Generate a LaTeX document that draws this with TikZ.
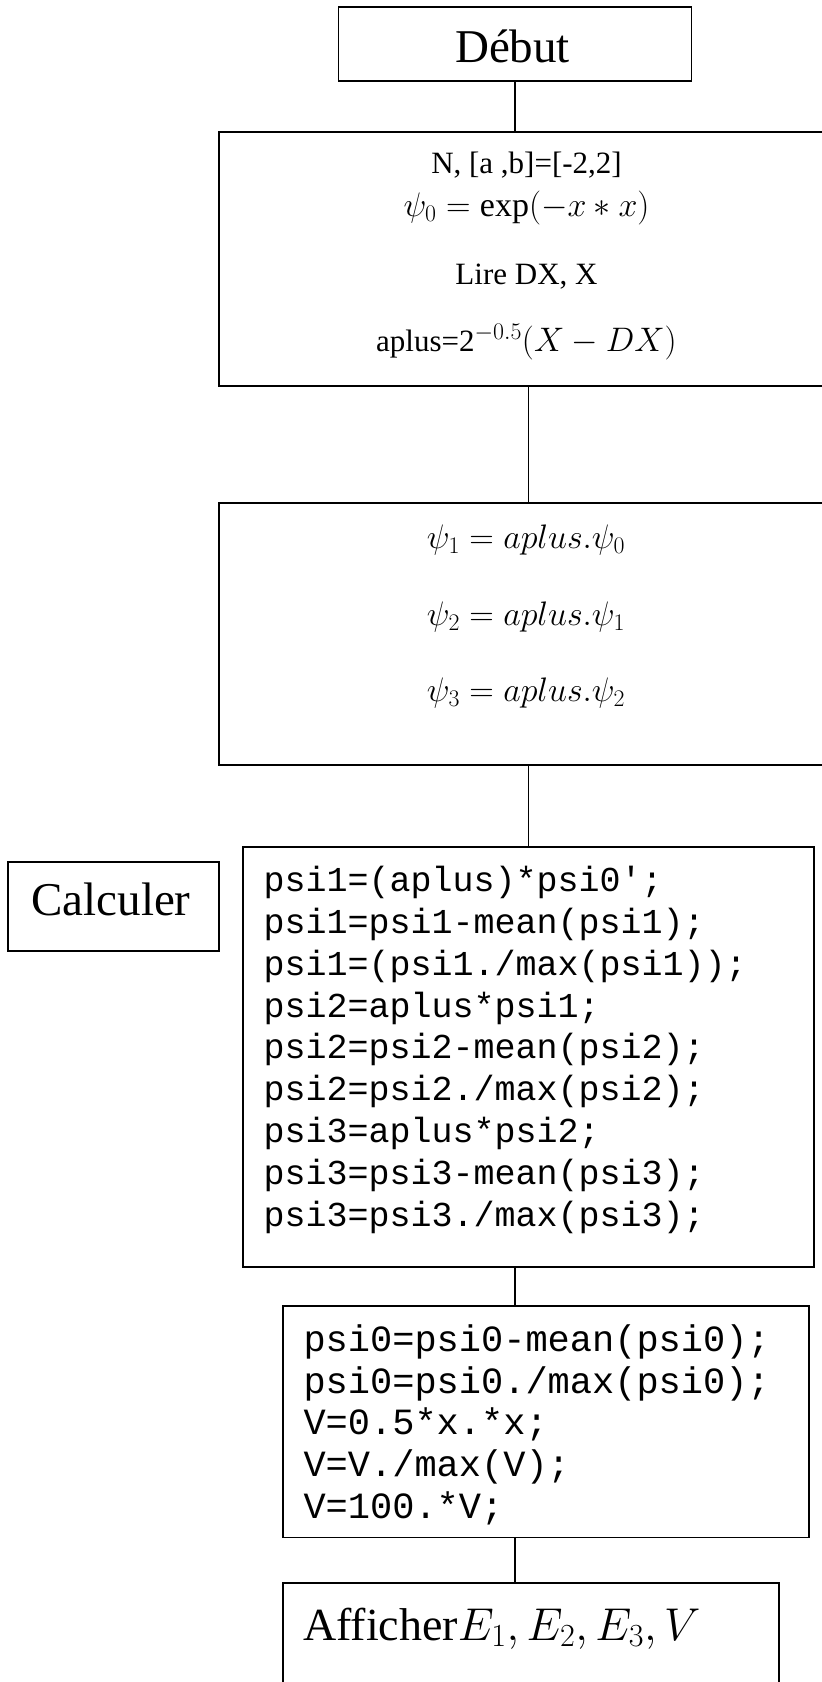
\RequirePackage{fix-cm}
\documentclass[tikz,border=0pt]{standalone}
\usepackage{fontspec}
\setmainfont{Liberation Serif}
\setmonofont{Liberation Mono}
\begin{document}
\begin{tikzpicture}[x=1pt,y=-1pt,
  box/.style={draw, line width=1.8pt, rectangle, inner sep=0pt, outer sep=0pt, anchor=north west},
  txt/.style={inner sep=0pt, outer sep=0pt},
  link/.style={line width=1.8pt},
  big/.style={font=\fontsize{47}{56}\selectfont},
  mid/.style={font=\fontsize{31}{37}\selectfont},
  mth/.style={font=\fontsize{34}{40}\selectfont},
  codeA/.style={font=\fontsize{35}{42}\selectfont\ttfamily},
  codeB/.style={font=\fontsize{37}{42}\selectfont\ttfamily}]
\useasboundingbox (0,0) rectangle (822,1682);
\fill[white] (0,0) rectangle (822,1682);
\clip (0,0) rectangle (822,1682);
% boxes
\node[box, minimum width=353pt, minimum height=73.4pt] (debut) at (338.5,7.3) {};
\node[box, minimum width=619.8pt, minimum height=254pt] (b2) at (218.6,131.7) {};
\node[box, minimum width=619.8pt, minimum height=261.7pt] (b3) at (218.6,503.3) {};
\node[box, minimum width=571.4pt, minimum height=420pt] (code) at (242.7,847) {};
\node[box, minimum width=211pt, minimum height=89.3pt] (calc) at (8.3,861.7) {};
\node[box, minimum width=526.3pt, minimum height=231.8pt] (b5) at (282.7,1305.7) {};
\node[box, minimum width=496.6pt, minimum height=150pt] (b6) at (282.7,1583.3) {};
\coordinate (ax) at (515,0);
% connectors
\draw[link] (debut.south) -- (debut.south |- b2.north);
\draw[link] (b2.south) -- (b3.north);
\draw[link] (b3.south) -- (b3.south |- code.north);
\draw[link] (ax |- code.south) -- (ax |- b5.north);
\draw[link] (ax |- b5.south) -- (ax |- b6.north);
% texts
\node[txt, big, anchor=base] (tdebut) at (512.5,62.7) {Début};
\node[txt, mid, anchor=base] (t21) at (526.5,173.3) {N, [a ,b]=[-2,2]};
\node[txt, mth, anchor=base] (t22) at (526.5,216) {$\psi_0=\exp(-x\ast x)$};
\node[txt, mid, anchor=base] (t23) at (526.5,284) {Lire DX, X};
\node[txt, mid, anchor=base] (t24) at (526.5,351.7) {aplus=2{\fontsize{34}{40}\selectfont$^{-0.5}(X-DX)$}};
\node[txt, mth, anchor=base] (t31) at (526,548.3) {$\psi_1=aplus.\psi_0$};
\node[txt, mth, anchor=base] (t32) at (526,625) {$\psi_2=aplus.\psi_1$};
\node[txt, mth, anchor=base] (t33) at (526,701.7) {$\psi_3=aplus.\psi_2$};
\node[txt, big, anchor=base] (tcalc) at (111,915) {Calculer};
\node[txt, codeA, anchor=base west] (c1) at (263.7,891.7) {psi1=(aplus)*psi0';};
\node[txt, codeA, anchor=base west] (c2) at (263.7,933.5) {psi1=psi1-mean(psi1);};
\node[txt, codeA, anchor=base west] (c3) at (263.7,975.3) {psi1=(psi1./max(psi1));};
\node[txt, codeA, anchor=base west] (c4) at (263.7,1017.1) {psi2=aplus*psi1;};
\node[txt, codeA, anchor=base west] (c5) at (263.7,1058.9) {psi2=psi2-mean(psi2);};
\node[txt, codeA, anchor=base west] (c6) at (263.7,1100.7) {psi2=psi2./max(psi2);};
\node[txt, codeA, anchor=base west] (c7) at (263.7,1142.5) {psi3=aplus*psi2;};
\node[txt, codeA, anchor=base west] (c8) at (263.7,1184.3) {psi3=psi3-mean(psi3);};
\node[txt, codeA, anchor=base west] (c9) at (263.7,1226.1) {psi3=psi3./max(psi3);};
\node[txt, codeB, anchor=base west] (d1) at (303.5,1351.7) {psi0=psi0-mean(psi0);};
\node[txt, codeB, anchor=base west] (d2) at (303.5,1393.3) {psi0=psi0./max(psi0);};
\node[txt, codeB, anchor=base west] (d3) at (303.5,1434.9) {V=0.5*x.*x;};
\node[txt, codeB, anchor=base west] (d4) at (303.5,1476.5) {V=V./max(V);};
\node[txt, codeB, anchor=base west] (d5) at (303.5,1518.1) {V=100.*V;};
\node[txt, anchor=base west, font=\fontsize{46}{54}\selectfont] (t6) at (303,1640) {Afficher$E_1,E_2,E_3,V$};
\end{tikzpicture}
\end{document}
